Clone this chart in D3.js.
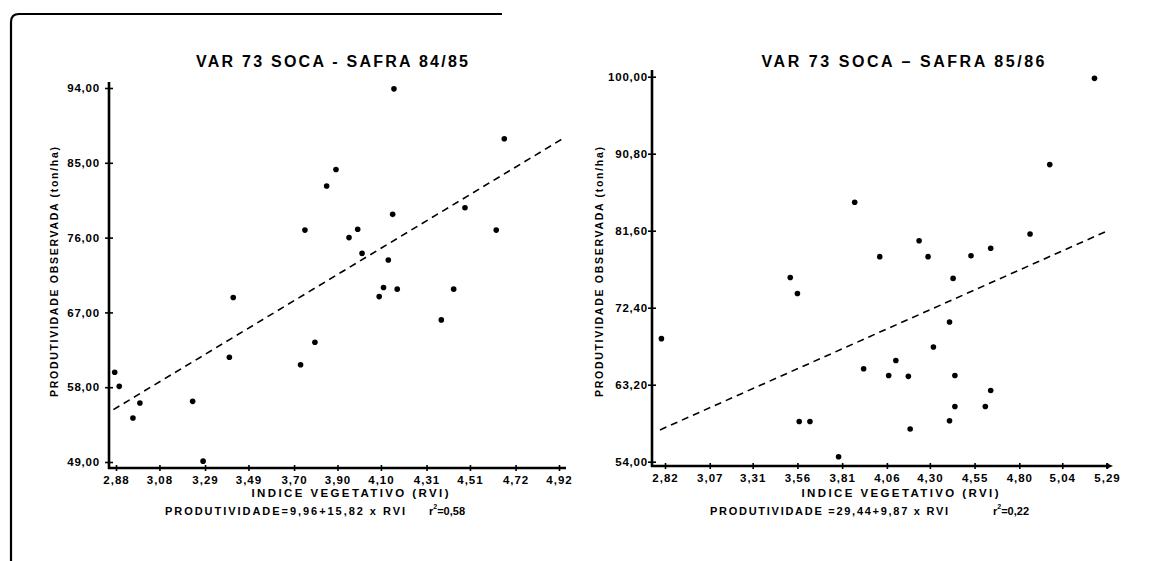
<!DOCTYPE html>
<html>
<head>
<meta charset="utf-8">
<script src="https://cdn.jsdelivr.net/npm/d3@7"></script>
<style>
body { margin: 0; background: #fff; }
svg text { font-family: "Liberation Sans", Arial, sans-serif; font-weight: bold; fill: #000; }
</style>
</head>
<body>
<svg id="chart" width="1155" height="561"></svg>
<script>
// safra 84/85
var rvi8485 = [2.874, 2.895, 2.958, 2.99, 3.233, 3.281, 3.402, 3.42, 3.73, 3.75, 3.796, 3.85, 3.893, 3.953,
               3.993, 4.013, 4.092, 4.112, 4.134, 4.154, 4.16, 4.175, 4.378, 4.435, 4.487, 4.631, 4.668];
var prod8485 = [59.8, 58.1, 54.3, 56.1, 56.3, 49.1, 61.6, 68.8, 60.7, 76.9, 63.4, 82.2, 84.2, 76.0,
                77.0, 74.1, 68.9, 70.0, 73.3, 78.8, 93.9, 69.8, 66.1, 69.8, 79.6, 76.9, 87.9];
var fit8485 = [[2.868, 55.3], [4.937, 87.9]];
var xTicks8485 = [2.88, 3.08, 3.29, 3.49, 3.70, 3.90, 4.10, 4.31, 4.51, 4.72, 4.92];
var yTicks8485 = [49, 58, 67, 76, 85, 94];

// safra 85/86
var rvi8586 = [2.80, 3.52, 3.56, 3.57, 3.63, 3.79, 3.88, 3.93, 4.02, 4.07, 4.11, 4.18, 4.19, 4.24,
               4.29, 4.32, 4.41, 4.43, 4.44, 4.44, 4.41, 4.53, 4.61, 4.64, 4.64, 4.86, 4.97, 5.22];
var prod8586 = [68.7, 76.0, 74.1, 58.8, 58.8, 54.6, 85.0, 65.1, 78.5, 64.3, 66.1, 64.2, 57.9, 80.4,
                78.5, 67.7, 70.7, 75.9, 64.3, 60.6, 58.9, 78.6, 60.6, 62.5, 79.5, 81.2, 89.5, 99.8];
var fit8586 = [[2.792, 57.8], [5.284, 81.5]];
var xTicks8586 = [2.82, 3.07, 3.31, 3.56, 3.81, 4.06, 4.30, 4.55, 4.80, 5.04, 5.29];
var yTicks8586 = [54, 63.2, 72.4, 81.6, 90.8, 100];

var svg = d3.select("#chart");
var comma = function(d) { return d3.format(".2f")(d).replace(".", ","); };

// moldura da pagina
svg.append("path")
    .attr("d", "M11,561 V22 Q11,14 19,14 H502")
    .attr("fill", "none")
    .attr("stroke", "#000")
    .attr("stroke-width", 2.2);

function makeScatter(cfg) {
    var x = d3.scaleLinear().domain(cfg.xDomain).range(cfg.xRange);
    var y = d3.scaleLinear().domain(cfg.yDomain).range(cfg.yRange);
    var g = svg.append("g");

    g.append("text")
        .attr("x", cfg.titleX).attr("y", 67)
        .attr("text-anchor", "middle")
        .attr("font-size", 16)
        .attr("textLength", cfg.titleLen).attr("lengthAdjust", "spacing")
        .text(cfg.title);

    // eixo y
    var yAxis = g.append("g")
        .attr("transform", "translate(" + cfg.axisLeft + ",0)")
        .call(d3.axisLeft(y).tickValues(cfg.yTicks).tickSize(4).tickFormat(comma));
    yAxis.select(".domain").remove();
    yAxis.selectAll(".tick line").attr("x1", 4).attr("stroke-width", 1.6);
    yAxis.selectAll(".tick text")
        .attr("x", cfg.yLabelGap)
        .attr("font-size", 11.5)
        .attr("letter-spacing", 0.8)
        .attr("font-family", null);

    // eixo x
    var xAxis = g.append("g")
        .attr("transform", "translate(0," + cfg.axisBottom + ")")
        .call(d3.axisBottom(x).tickValues(cfg.xTicks).tickSize(3).tickFormat(comma));
    xAxis.select(".domain").remove();
    xAxis.selectAll(".tick line").attr("y1", -3).attr("stroke-width", 1.6);
    xAxis.selectAll(".tick text")
        .attr("y", 8)
        .attr("font-size", 11.5)
        .attr("letter-spacing", 1)
        .attr("font-family", null);

    g.append("line")
        .attr("x1", cfg.axisLeft).attr("x2", cfg.axisLeft)
        .attr("y1", cfg.axisBottom + 1).attr("y2", cfg.axisTop)
        .attr("stroke", "#000").attr("stroke-width", 2.6);
    g.append("line")
        .attr("x1", cfg.axisLeft - 1).attr("x2", cfg.axisRight)
        .attr("y1", cfg.axisBottom).attr("y2", cfg.axisBottom)
        .attr("stroke", "#000").attr("stroke-width", 2.6);
    if (cfg.arrow) {
        g.append("path")
            .attr("d", "M" + (cfg.axisRight + 5) + "," + cfg.axisBottom + " l-7,-3 v6 z")
            .attr("fill", "#000");
    }

    g.append("text")
        .attr("transform", "translate(" + cfg.yTitleX + ",272) rotate(-90)")
        .attr("text-anchor", "middle")
        .attr("font-size", 10.5)
        .attr("textLength", 250).attr("lengthAdjust", "spacing")
        .text("PRODUTIVIDADE  OBSERVADA (ton/ha)");

    g.append("text")
        .attr("x", cfg.xTitleX).attr("y", 497)
        .attr("text-anchor", "middle")
        .attr("font-size", 11.5)
        .attr("textLength", 197).attr("lengthAdjust", "spacing")
        .text("INDICE VEGETATIVO (RVI)");

    g.append("text")
        .attr("x", cfg.formulaX).attr("y", 515)
        .attr("font-size", 11)
        .attr("textLength", cfg.formulaLen).attr("lengthAdjust", "spacing")
        .text(cfg.formula);
    var r2 = g.append("text")
        .attr("x", cfg.r2X).attr("y", 515)
        .attr("font-size", 11);
    r2.append("tspan").text("r");
    r2.append("tspan").attr("dy", -6).attr("font-size", 7).text("2");
    r2.append("tspan").attr("dy", 6).text(cfg.r2);

    g.append("line")
        .attr("x1", x(cfg.fit[0][0])).attr("y1", y(cfg.fit[0][1]))
        .attr("x2", x(cfg.fit[1][0])).attr("y2", y(cfg.fit[1][1]))
        .attr("stroke", "#000")
        .attr("stroke-width", 1.6)
        .attr("stroke-dasharray", "7,5");

    g.selectAll("circle")
        .data(cfg.xs)
        .enter().append("circle")
        .attr("cx", function(d) { return x(d); })
        .attr("cy", function(d, i) { return y(cfg.ys[i]); })
        .attr("r", 2.8)
        .attr("fill", "#000");
}

makeScatter({
    xs: rvi8485, ys: prod8485, fit: fit8485,
    xTicks: xTicks8485, yTicks: yTicks8485,
    xDomain: [2.88, 4.92], xRange: [116, 559],
    yDomain: [49, 94], yRange: [462, 88],
    axisLeft: 109, axisBottom: 468, axisTop: 82, axisRight: 566, arrow: false,
    yLabelGap: -9, yTitleX: 58,
    title: "VAR 73   SOCA - SAFRA 84/85", titleX: 332, titleLen: 272,
    xTitleX: 350,
    formula: "PRODUTIVIDADE=9,96+15,82 x RVI", formulaX: 165, formulaLen: 240,
    r2X: 429, r2: "=0,58"
});

makeScatter({
    xs: rvi8586, ys: prod8586, fit: fit8586,
    xTicks: xTicks8586, yTicks: yTicks8586,
    xDomain: [2.82, 5.29], xRange: [665, 1107],
    yDomain: [54, 100], yRange: [461.7, 76.7],
    axisLeft: 652, axisBottom: 466, axisTop: 70, axisRight: 1108, arrow: true,
    yLabelGap: -4, yTitleX: 603,
    title: "VAR 73   SOCA  \u2013  SAFRA 85/86", titleX: 903, titleLen: 283,
    xTitleX: 900,
    formula: "PRODUTIVIDADE =29,44+9,87 x RVI", formulaX: 710, formulaLen: 238,
    r2X: 993, r2: "=0,22"
});
</script>
</body>
</html>
